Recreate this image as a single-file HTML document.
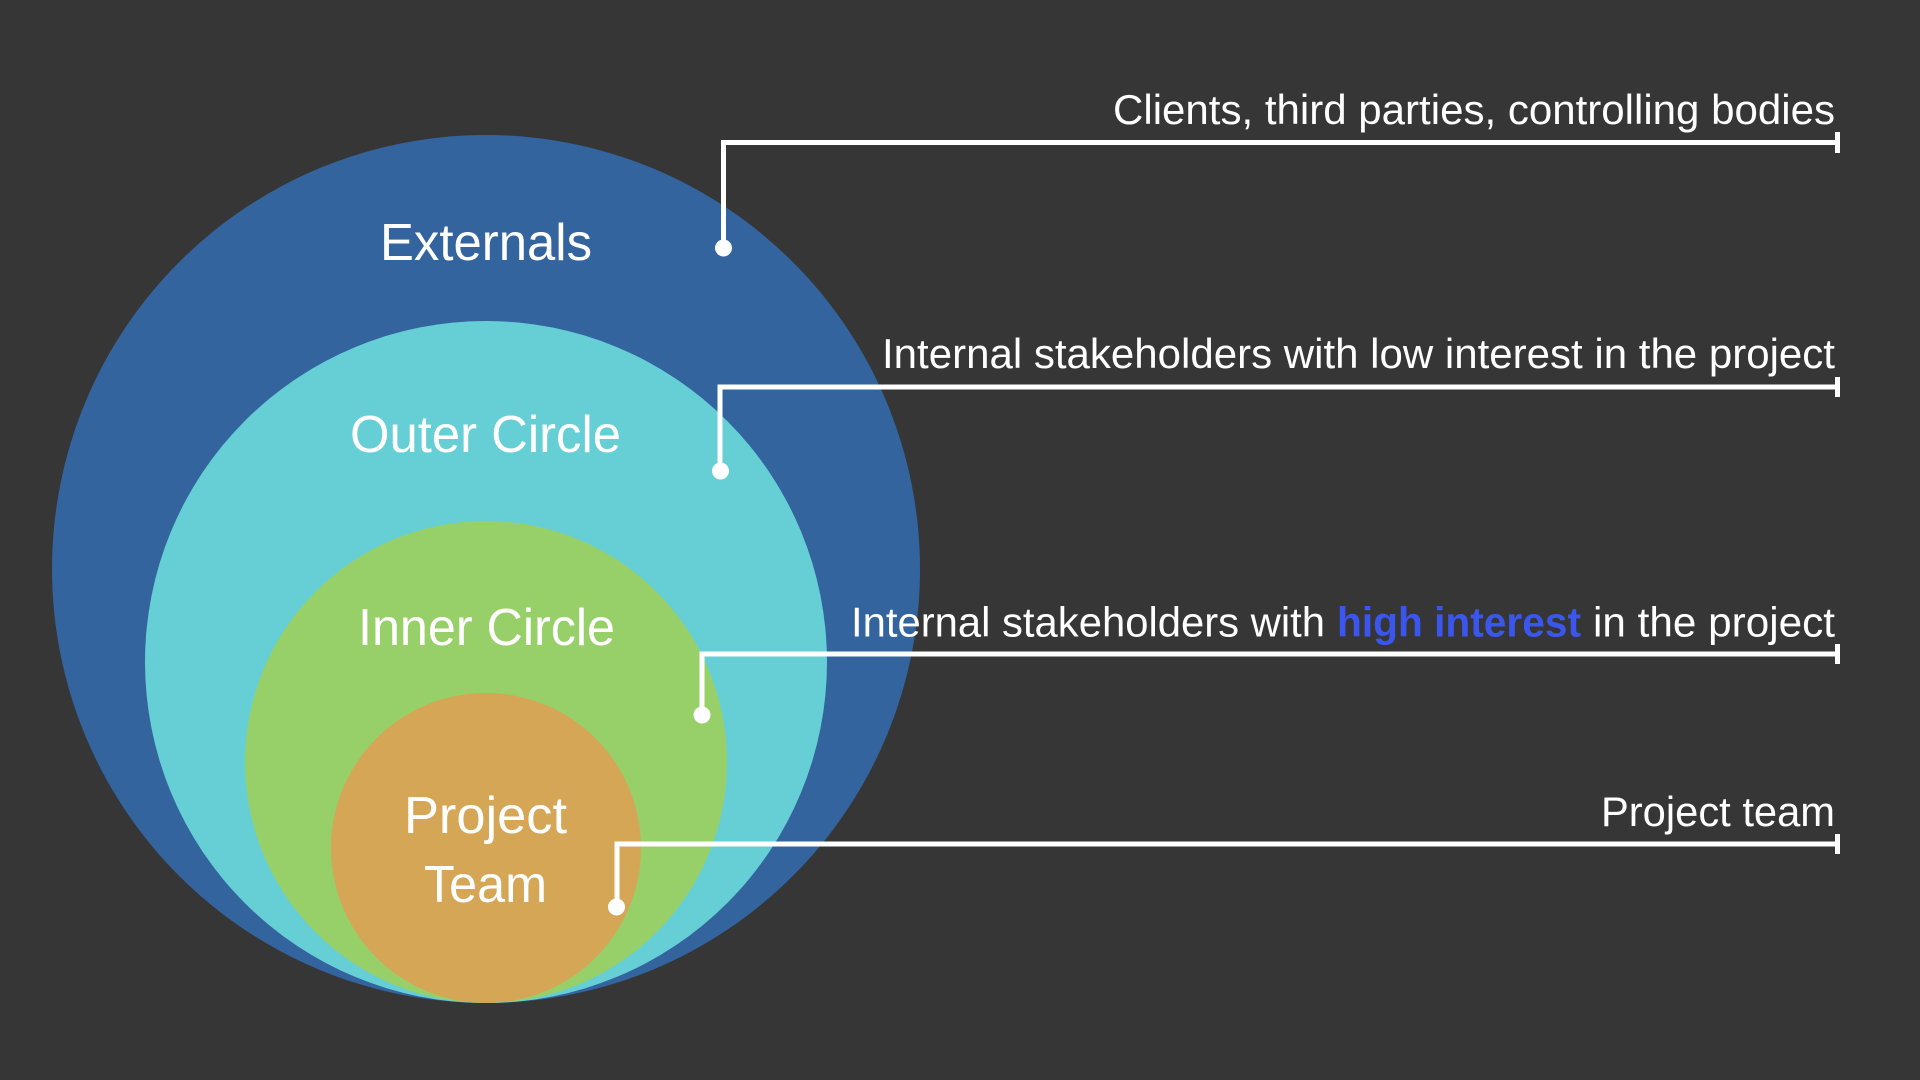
<!DOCTYPE html>
<html>
<head>
<meta charset="utf-8">
<style>
  html, body { margin:0; padding:0; background:#363637; }
  body { width:1920px; height:1080px; overflow:hidden; }
  svg { display:block; }
  .lbl { font-family:"Liberation Sans", sans-serif; fill:#ffffff; }
</style>
</head>
<body>
<svg width="1920" height="1080" viewBox="0 0 1920 1080" xmlns="http://www.w3.org/2000/svg">
  <rect x="0" y="0" width="1920" height="1080" fill="#363637"/>

  <!-- circles -->
  <circle cx="486" cy="569" r="434" fill="#33649e"/>
  <circle cx="486" cy="662" r="341" fill="#65cfd5"/>
  <circle cx="486" cy="762" r="241" fill="#97d069"/>
  <circle cx="486" cy="848" r="155" fill="#d5a656"/>

  <!-- circle labels -->
  <text class="lbl" x="380" y="260" font-size="52" textLength="212" lengthAdjust="spacingAndGlyphs">Externals</text>
  <text class="lbl" x="350" y="452" font-size="52" textLength="271" lengthAdjust="spacingAndGlyphs">Outer Circle</text>
  <text class="lbl" x="358" y="645" font-size="52" textLength="257" lengthAdjust="spacingAndGlyphs">Inner Circle</text>
  <text class="lbl" x="404" y="833" font-size="52" textLength="163" lengthAdjust="spacingAndGlyphs">Project</text>
  <text class="lbl" x="424" y="902" font-size="52" textLength="123" lengthAdjust="spacingAndGlyphs">Team</text>

  <!-- connectors -->
  <g stroke="#ffffff" stroke-width="5" fill="none">
    <polyline points="723.5,247.5 723.5,142.5 1837.5,142.5"/>
    <line x1="1837.5" y1="132" x2="1837.5" y2="153"/>

    <polyline points="720,471 720,387 1837.5,387"/>
    <line x1="1837.5" y1="377" x2="1837.5" y2="397"/>

    <polyline points="702,715 702,654 1837.5,654"/>
    <line x1="1837.5" y1="644" x2="1837.5" y2="664"/>

    <polyline points="617,907 617,844 1837.5,844"/>
    <line x1="1837.5" y1="834" x2="1837.5" y2="854"/>
  </g>
  <g fill="#ffffff">
    <circle cx="723.5" cy="248" r="8.5"/>
    <circle cx="720.5" cy="471" r="8.5"/>
    <circle cx="702" cy="715" r="8.5"/>
    <circle cx="616.5" cy="907" r="8.5"/>
  </g>

  <!-- right-side labels -->
  <text class="lbl" x="1113" y="124" font-size="42" textLength="722" lengthAdjust="spacingAndGlyphs">Clients, third parties, controlling bodies</text>
  <text class="lbl" x="882" y="368" font-size="42" textLength="953" lengthAdjust="spacingAndGlyphs">Internal stakeholders with low interest in the project</text>
  <text class="lbl" x="851" y="636.5" font-size="42" textLength="474" lengthAdjust="spacingAndGlyphs">Internal stakeholders with</text>
  <text x="1337" y="636.5" font-size="42" font-weight="bold" fill="#3b56ef" font-family="Liberation Sans, sans-serif" textLength="244" lengthAdjust="spacingAndGlyphs">high interest</text>
  <text class="lbl" x="1593" y="636.5" font-size="42" textLength="242" lengthAdjust="spacingAndGlyphs">in the project</text>
  <text class="lbl" x="1601" y="826" font-size="42" textLength="234" lengthAdjust="spacingAndGlyphs">Project team</text>
</svg>
</body>
</html>
